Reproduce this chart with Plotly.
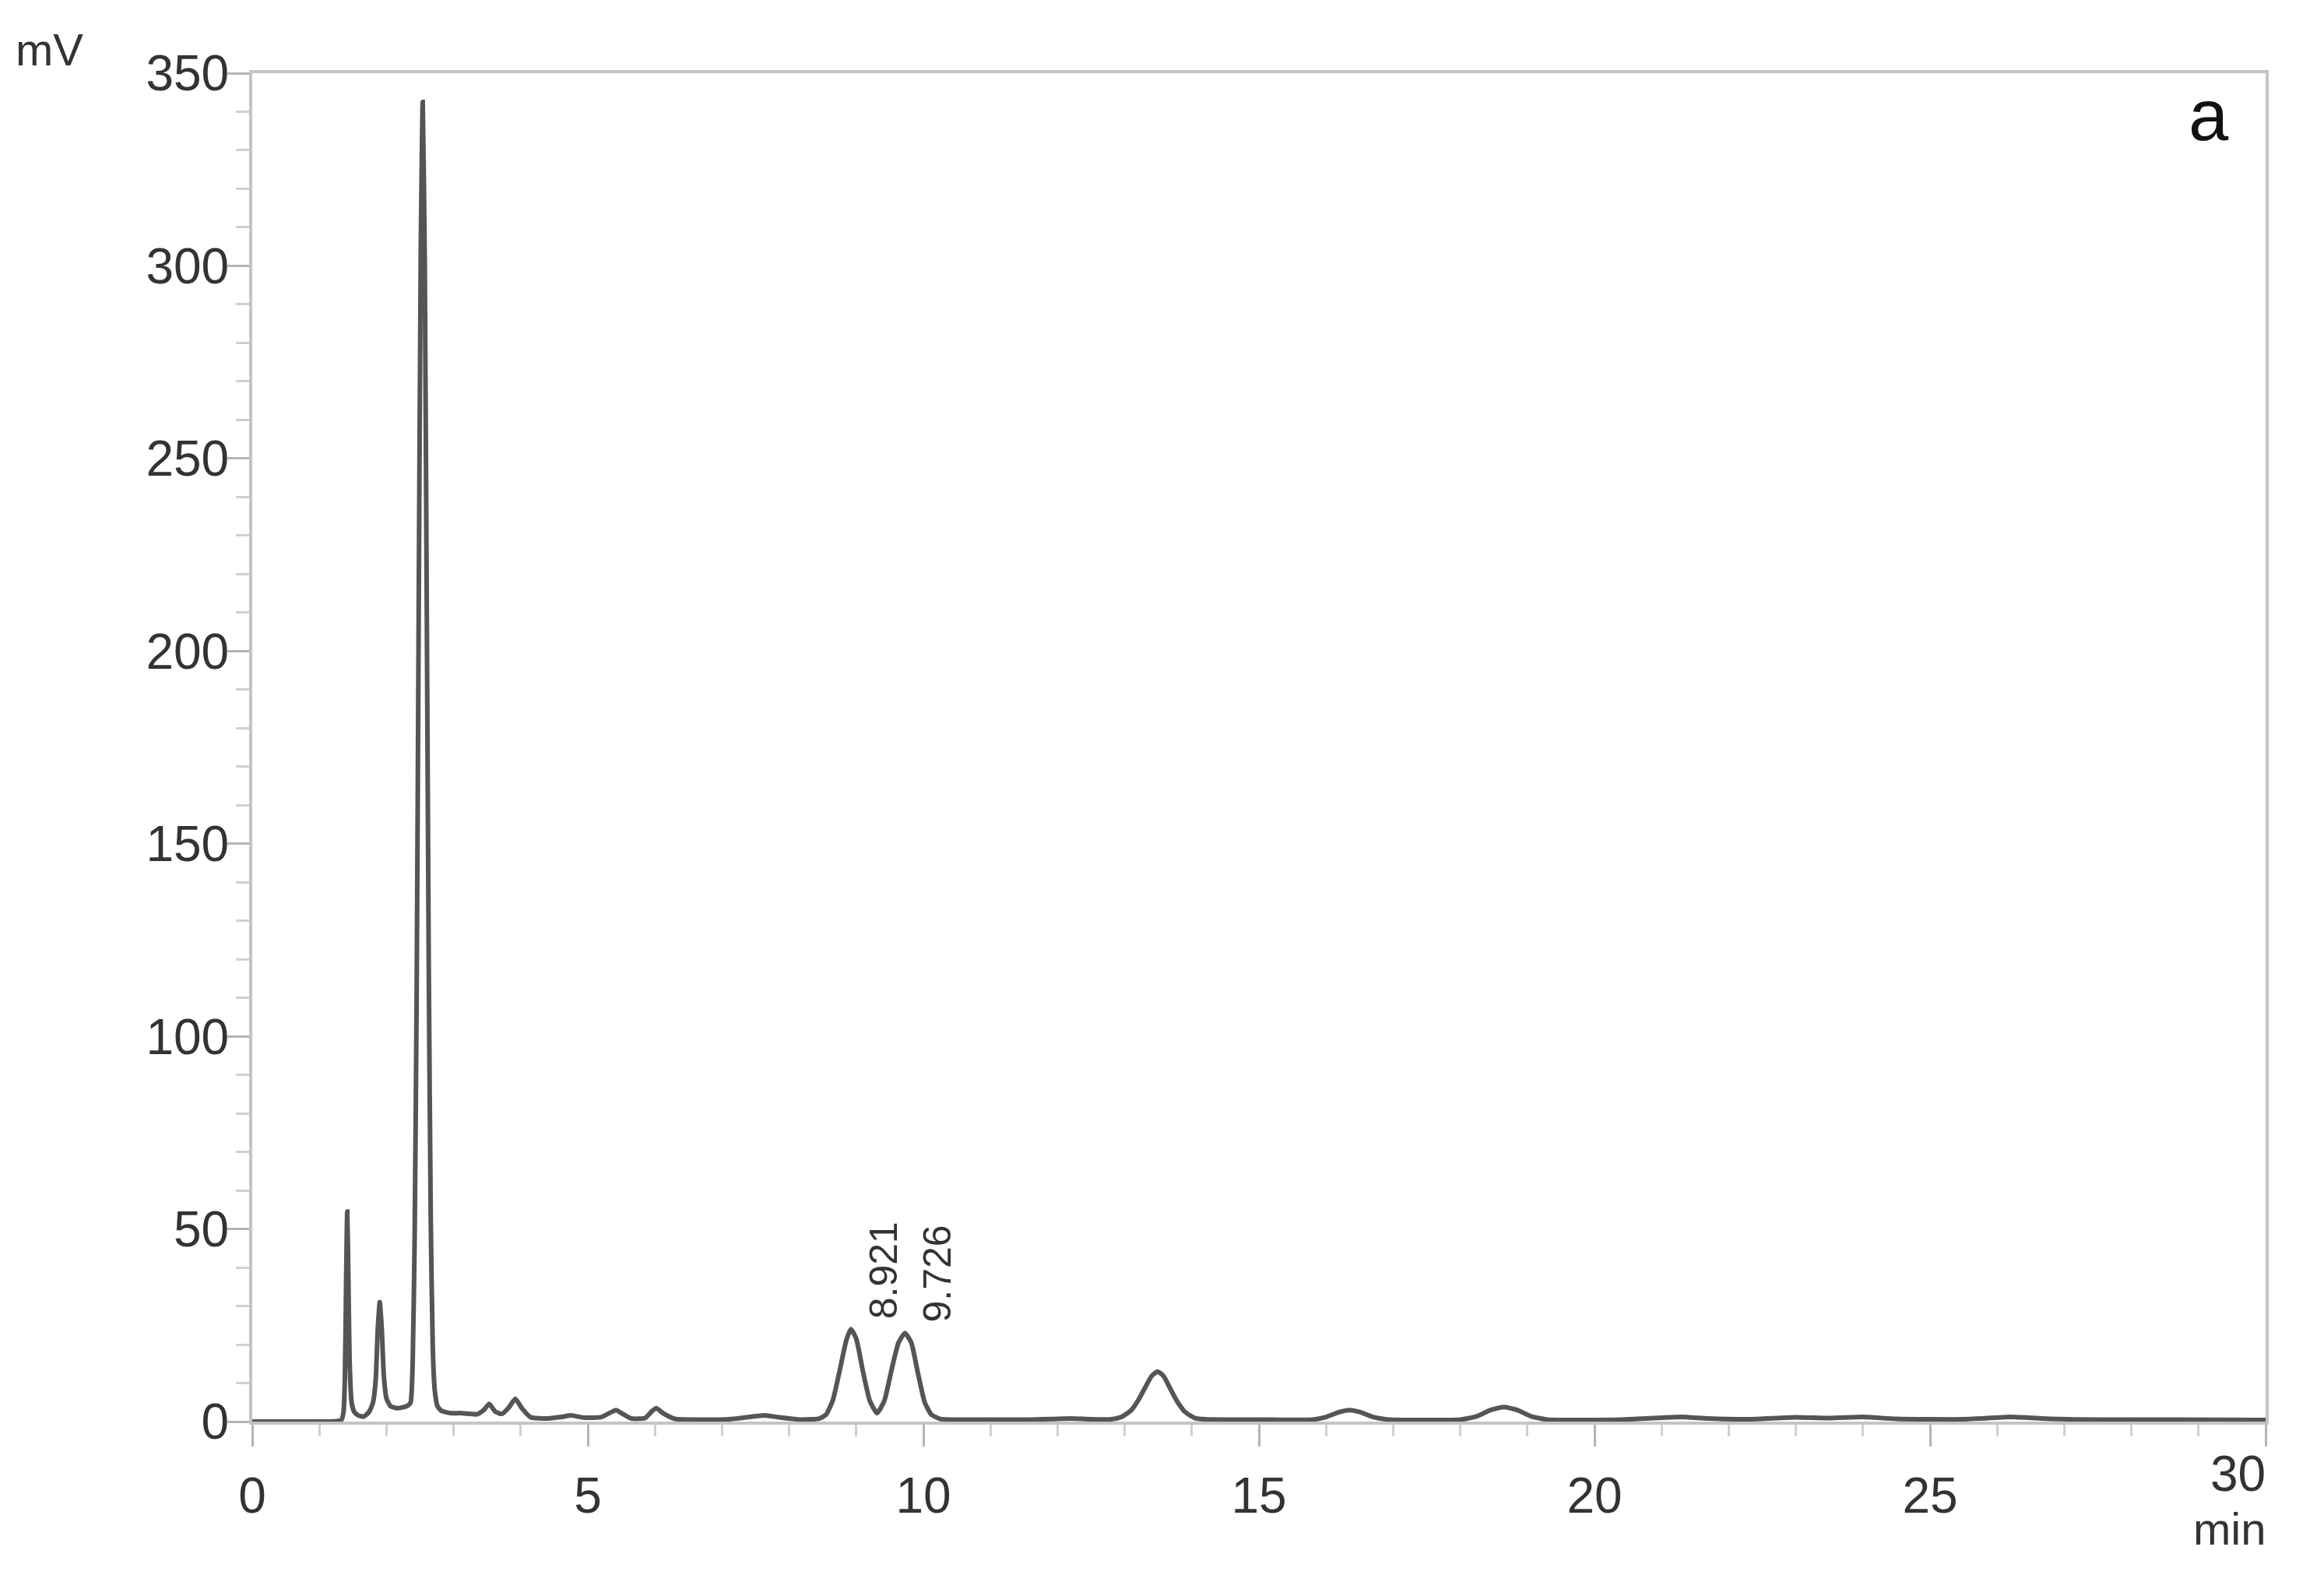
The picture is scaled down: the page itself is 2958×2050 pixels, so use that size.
import plotly.graph_objects as go

# Chromatogram trace (retention time in min, signal in mV)
rt_min = [
    0.0, 0.5, 1.0, 1.25, 1.33, 1.36, 1.38, 1.40, 1.415, 1.43, 1.45, 1.48, 1.52, 1.58, 1.66,
    1.74, 1.80, 1.84, 1.87, 1.90, 1.93, 1.96, 2.00, 2.06, 2.15, 2.25, 2.32,
    2.36, 2.39, 2.42, 2.45, 2.48, 2.51, 2.54, 2.57, 2.60, 2.63, 2.66, 2.69, 2.72, 2.76, 2.82,
    2.95, 3.1, 3.25, 3.35, 3.45, 3.53, 3.62, 3.72, 3.82, 3.92, 4.02, 4.15, 4.4, 4.6, 4.75,
    4.95, 5.2, 5.32, 5.42, 5.52, 5.65, 5.85, 5.95, 6.02, 6.12, 6.3, 6.7, 7.1, 7.45, 7.65,
    7.85, 8.2, 8.45, 8.55, 8.65, 8.75, 8.85, 8.92, 9.0, 9.1, 9.2, 9.31, 9.42, 9.52, 9.63,
    9.726, 9.82, 9.92, 10.02, 10.12, 10.25, 10.5, 11.0, 11.6, 12.2, 12.5, 12.8, 12.95, 13.1,
    13.2, 13.3, 13.4, 13.49, 13.58, 13.68, 13.78, 13.9, 14.05, 14.2, 14.6, 15.2, 15.8, 16.0,
    16.2, 16.35, 16.5, 16.7, 16.95, 17.4, 18.0, 18.25, 18.45, 18.65, 18.85, 19.05, 19.3, 19.8,
    20.4, 21.0, 21.3, 21.7, 22.3, 23.0, 23.5, 24.0, 24.5, 25.5, 26.2, 26.8, 27.5, 28.5, 30.0,
]
signal_mv = [
    0.0, 0.0, 0.0, 0.1, 0.5, 2.5, 11, 38, 54.5, 40, 16, 5, 2.5, 1.6, 1.3,
    2.5, 5, 11, 24, 31, 24, 12, 6, 4, 3.5, 3.7, 4.2,
    5, 15, 48, 112, 210, 302, 342.5, 302, 212, 118, 52, 19, 8, 4, 2.8,
    2.2, 2.2, 2.0, 1.9, 3.0, 4.6, 2.6, 2.0, 3.6, 5.9, 3.4, 1.1, 0.8, 1.2, 1.6,
    1.0, 1.2, 2.2, 3.0, 2.0, 0.8, 0.9, 2.6, 3.5, 2.2, 0.7, 0.5, 0.6, 1.3, 1.6,
    1.1, 0.5, 0.8, 1.8, 5.5, 13, 21, 24, 21.5, 13, 5.5, 2.2, 5.5, 13, 20.5,
    23, 20.5, 12.5, 5, 1.8, 0.7, 0.5, 0.5, 0.5, 0.8, 0.6, 0.6, 1.2, 3,
    5.5, 8.7, 11.8, 13, 11.8, 8.5, 5.3, 2.5, 0.9, 0.6, 0.5, 0.5, 0.5, 1.2,
    2.5, 3.0, 2.5, 1.2, 0.5, 0.4, 0.5, 1.4, 3.0, 3.8, 3.0, 1.4, 0.5, 0.4,
    0.5, 1.0, 1.2, 0.8, 0.6, 1.1, 0.9, 1.2, 0.7, 0.6, 1.2, 0.7, 0.5, 0.5, 0.4,
]

# labelled peaks
peak_labels = ["8.921", "9.726"]
peak_rt = [8.921, 9.726]
peak_top = [24, 23]

x_ticks = [0, 5, 10, 15, 20, 25, 30]
x_ticktext = ["0", "5", "10", "15", "20", "25", ""]
y_ticks = [0, 50, 100, 150, 200, 250, 300, 350]

fam = "Liberation Sans, Arial, sans-serif"
tick_font = dict(family=fam, size=64, color="#333333")
axis_col = "#c4c4c4"

# page has an 8px body margin, so pixel targets are offset by it
W, H = 2958, 2050
L, R, T, B = 316, 56, 86, 232


def px_to_paper(px, py):
    return (px - L) / (W - L - R), (H - B - py) / (H - T - B)


fig = go.Figure()
fig.add_trace(go.Scatter(
    x=rt_min, y=signal_mv, mode="lines",
    line=dict(color="#555555", width=6, shape="spline", smoothing=0.5),
    showlegend=False, hoverinfo="skip",
))

for lab, rt, top in zip(peak_labels, peak_rt, peak_top):
    fig.add_annotation(
        x=rt, y=top, text=lab, textangle=-90, showarrow=False,
        xanchor="center", yanchor="middle", xshift=42, yshift=76,
        font=dict(family=fam, size=50, color="#333333"),
    )

# "30" sits right-aligned against the end of the axis, with the unit below it
fig.add_annotation(x=30, y=0, text="30", showarrow=False,
                   xanchor="right", yanchor="middle", yshift=-67, xshift=2, font=tick_font)
fig.add_annotation(x=30, y=0, text="min", showarrow=False,
                   xanchor="right", yanchor="middle", yshift=-137, xshift=2,
                   font=dict(family=fam, size=58, color="#333333"))

mx, my = px_to_paper(55, 55)
fig.add_annotation(x=mx, y=my, xref="paper", yref="paper", text="mV", showarrow=False,
                   xanchor="center", yanchor="middle",
                   font=dict(family=fam, size=58, color="#333333"))
ax_, ay_ = px_to_paper(2829, 140)
fig.add_annotation(x=ax_, y=ay_, xref="paper", yref="paper", text="a", showarrow=False,
                   xanchor="center", yanchor="middle",
                   font=dict(family=fam, size=92, color="#111111"))

fig.update_xaxes(
    range=[0, 30], tickvals=x_ticks, ticktext=x_ticktext, tickfont=tick_font,
    showgrid=False, zeroline=False, showline=True, linecolor=axis_col, linewidth=4, mirror=True,
    ticks="outside", ticklen=28, tickwidth=3, tickcolor="#b4b4b4", ticklabelstandoff=8,
    minor=dict(dtick=1, ticks="outside", ticklen=15, tickwidth=3, tickcolor="#d0d0d0"),
)
fig.update_yaxes(
    range=[0, 350], tickvals=y_ticks, tickfont=tick_font,
    showgrid=False, zeroline=False, showline=True, linecolor=axis_col, linewidth=4, mirror=True,
    ticks="outside", ticklen=28, tickwidth=3, tickcolor="#b4b4b4", ticklabelstandoff=-15,
    minor=dict(dtick=10, ticks="outside", ticklen=17, tickwidth=3, tickcolor="#d0d0d0"),
)
fig.update_layout(
    width=W, height=H, margin=dict(l=L, r=R, t=T, b=B),
    paper_bgcolor="white", plot_bgcolor="white",
)

fig.write_html("out.html")
